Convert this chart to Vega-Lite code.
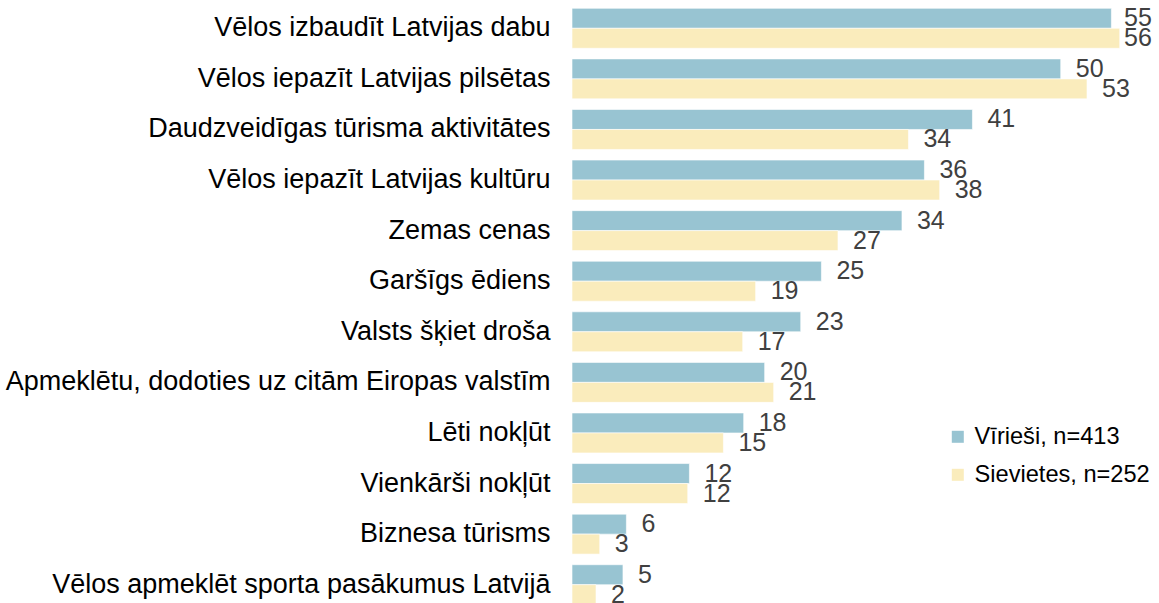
{
  "$schema": "https://vega.github.io/schema/vega-lite/v6.json",
  "autosize": "none",
  "width": 588,
  "height": 607,
  "padding": {"left": 572, "top": 3, "right": 0, "bottom": 0},
  "background": "white",
  "config": {
    "view": {"stroke": null},
    "font": "Liberation Sans"
  },
  "data": {
    "values": [
      {"cat": "Vēlos izbaudīt Latvijas dabu", "series": "Vīrieši, n=413", "value": 55.04},
      {"cat": "Vēlos izbaudīt Latvijas dabu", "series": "Sievietes, n=252", "value": 55.89},
      {"cat": "Vēlos iepazīt Latvijas pilsētas", "series": "Vīrieši, n=413", "value": 49.87},
      {"cat": "Vēlos iepazīt Latvijas pilsētas", "series": "Sievietes, n=252", "value": 52.55},
      {"cat": "Daudzveidīgas tūrisma aktivitātes", "series": "Vīrieši, n=413", "value": 40.86},
      {"cat": "Daudzveidīgas tūrisma aktivitātes", "series": "Sievietes, n=252", "value": 34.33},
      {"cat": "Vēlos iepazīt Latvijas kultūru", "series": "Vīrieši, n=413", "value": 35.96},
      {"cat": "Vēlos iepazīt Latvijas kultūru", "series": "Sievietes, n=252", "value": 37.52},
      {"cat": "Zemas cenas", "series": "Vīrieši, n=413", "value": 33.67},
      {"cat": "Zemas cenas", "series": "Sievietes, n=252", "value": 27.14},
      {"cat": "Garšīgs ēdiens", "series": "Vīrieši, n=413", "value": 25.45},
      {"cat": "Garšīgs ēdiens", "series": "Sievietes, n=252", "value": 18.74},
      {"cat": "Valsts šķiet droša", "series": "Vīrieši, n=413", "value": 23.34},
      {"cat": "Valsts šķiet droša", "series": "Sievietes, n=252", "value": 17.42},
      {"cat": "Apmeklētu, dodoties uz citām Eiropas valstīm", "series": "Vīrieši, n=413", "value": 19.66},
      {"cat": "Apmeklētu, dodoties uz citām Eiropas valstīm", "series": "Sievietes, n=252", "value": 20.58},
      {"cat": "Lēti nokļūt", "series": "Vīrieši, n=413", "value": 17.52},
      {"cat": "Lēti nokļūt", "series": "Sievietes, n=252", "value": 15.45},
      {"cat": "Vienkārši nokļūt", "series": "Vīrieši, n=413", "value": 11.98},
      {"cat": "Vienkārši nokļūt", "series": "Sievietes, n=252", "value": 11.81},
      {"cat": "Biznesa tūrisms", "series": "Vīrieši, n=413", "value": 5.55},
      {"cat": "Biznesa tūrisms", "series": "Sievietes, n=252", "value": 2.83},
      {"cat": "Vēlos apmeklēt sporta pasākumus Latvijā", "series": "Vīrieši, n=413", "value": 5.2},
      {"cat": "Vēlos apmeklēt sporta pasākumus Latvijā", "series": "Sievietes, n=252", "value": 2.45}
    ]
  },
  "encoding": {
    "y": {
      "field": "cat",
      "type": "nominal",
      "sort": null,
      "title": null,
      "scale": {"paddingInner": 0.21, "paddingOuter": 0.105},
      "axis": {
        "ticks": false,
        "domain": false,
        "labelFontSize": 27,
        "labelColor": "#000000",
        "labelPadding": 22,
        "labelLimit": 1000,
        "labelFont": "Liberation Sans"
      }
    },
    "yOffset": {
      "field": "series",
      "type": "nominal",
      "sort": ["Vīrieši, n=413", "Sievietes, n=252"],
      "scale": {"paddingInner": 0, "paddingOuter": 0}
    }
  },
  "layer": [
    {
      "mark": {"type": "bar", "stroke": "#ffffff", "strokeWidth": 1, "strokeOpacity": 0.6},
      "encoding": {
        "x": {
          "field": "value",
          "type": "quantitative",
          "scale": {"domain": [0, 60], "nice": false},
          "axis": null
        },
        "color": {
          "field": "series",
          "type": "nominal",
          "sort": ["Vīrieši, n=413", "Sievietes, n=252"],
          "scale": {"domain": ["Vīrieši, n=413", "Sievietes, n=252"], "range": ["#98c4d2", "#faecbc"]},
          "legend": {
            "title": null,
            "orient": "none",
            "legendX": 374,
            "legendY": 422,
            "padding": 0,
            "symbolType": "square",
            "symbolSize": 144,
            "symbolStrokeWidth": 0,
            "labelFontSize": 23.6,
            "labelColor": "#000000",
            "labelFont": "Liberation Sans",
            "labelOffset": 5,
            "rowPadding": 13,
            "labelLimit": 400
          }
        }
      }
    },
    {
      "mark": {"type": "text", "align": "left", "baseline": "middle", "dx": 15, "fontSize": 25, "color": "#404040", "font": "Liberation Sans"},
      "encoding": {
        "x": {
          "field": "value",
          "type": "quantitative",
          "scale": {"domain": [0, 54.8], "range": [0, 537.04], "nice": false, "clamp": true},
          "axis": null
        },
        "text": {"field": "value", "type": "quantitative", "format": ".0f"}
      }
    }
  ],
  "resolve": {"scale": {"x": "independent"}}
}
